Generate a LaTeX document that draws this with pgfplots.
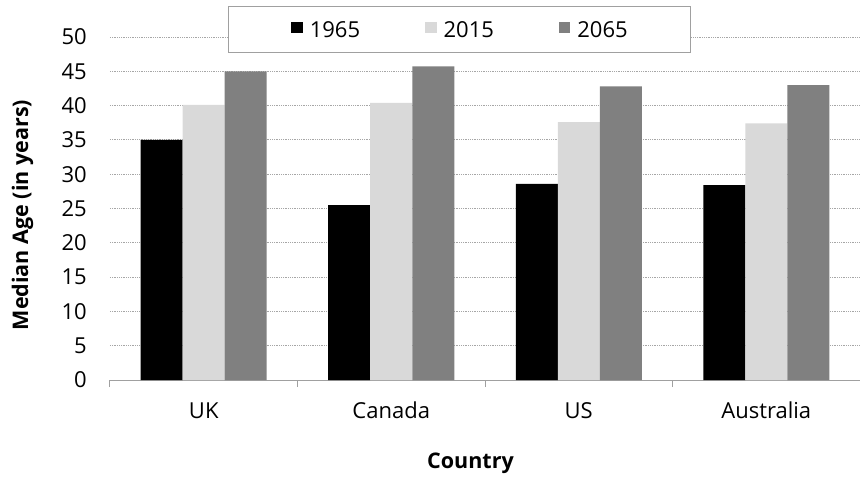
\documentclass[border=0pt]{standalone}
\usepackage{pgfplots}
\pgfplotsset{compat=1.18}
\usepackage{fontspec}
\setmainfont{Open Sans}
\definecolor{lgray}{HTML}{D9D9D9}
\definecolor{dgray}{HTML}{808080}
\definecolor{gridc}{HTML}{A6A6A6}
\definecolor{axc}{HTML}{A0A0A0}
\begin{document}
\begin{tikzpicture}
\path[use as bounding box] (-110bp,-97bp) rectangle (750bp,380bp);
\begin{axis}[
  at={(0,0)}, anchor=south west,
  scale only axis,
  width=750bp, height=343bp,
  xmin=-0.5, xmax=3.5,
  ymin=0, ymax=50,
  ytick={0,5,...,50},
  xtick={0,1,2,3},
  xticklabels={UK,Canada,US,Australia},
  minor xtick={-0.5,0.5,1.5,2.5,3.5},
  major tick length=0pt,
  minor tick length=7bp,
  xtick align=outside,
  tick pos=left,
  axis x line*=bottom,
  axis y line*=left,
  y axis line style={draw=none},
  x axis line style={draw=axc, line width=1bp},
  minor x tick style={draw=axc, line width=1bp},
  ymajorgrids,
  major grid style={draw=gridc, line width=0.9bp, dash pattern=on 0.9bp off 0.9bp},
  /pgf/number format/assume math mode=true,
  tick label style={font=\fontsize{22bp}{26bp}\selectfont, inner sep=0pt},
  yticklabel style={anchor=east, xshift=-23bp},
  xticklabel style={anchor=base, yshift=-38.3bp},
  ylabel={\textbf{Median Age (in years)}},
  xlabel={\textbf{Country}},
  label style={font=\fontsize{21.5bp}{25bp}\selectfont},
  ylabel style={at={(axis description cs:-0.1167,0.481)}, anchor=center, rotate=0},
  xlabel style={at={(axis description cs:0.4807,-0.2566)}, anchor=base},
  ybar=0bp, bar width=42bp,
  legend columns=3,
  legend style={
    at={(axis description cs:0.466,1.0233)}, anchor=center,
    draw=axc, line width=1bp, fill=white,
    font=\fontsize{22bp}{26bp}\selectfont,
    inner xsep=63bp, inner ysep=15bp,
    nodes={inner sep=0pt, text height=16bp, text depth=0bp},
    /tikz/every odd column/.append style={column sep=7bp},
    /tikz/every even column/.append style={column sep=65bp},
  },
  legend image code/.code={\fill[#1] (0bp,-4bp) rectangle (11.5bp,7.5bp);},
]
\addplot[fill=black, draw=none] coordinates {(0,35.0) (1,25.5) (2,28.6) (3,28.4)};
\addplot[fill=lgray, draw=none] coordinates {(0,40.1) (1,40.4) (2,37.6) (3,37.4)};
\addplot[fill=dgray, draw=none] coordinates {(0,45.0) (1,45.7) (2,42.8) (3,43.0)};
\legend{1965,2015,2065}
\end{axis}
\end{tikzpicture}
\end{document}
